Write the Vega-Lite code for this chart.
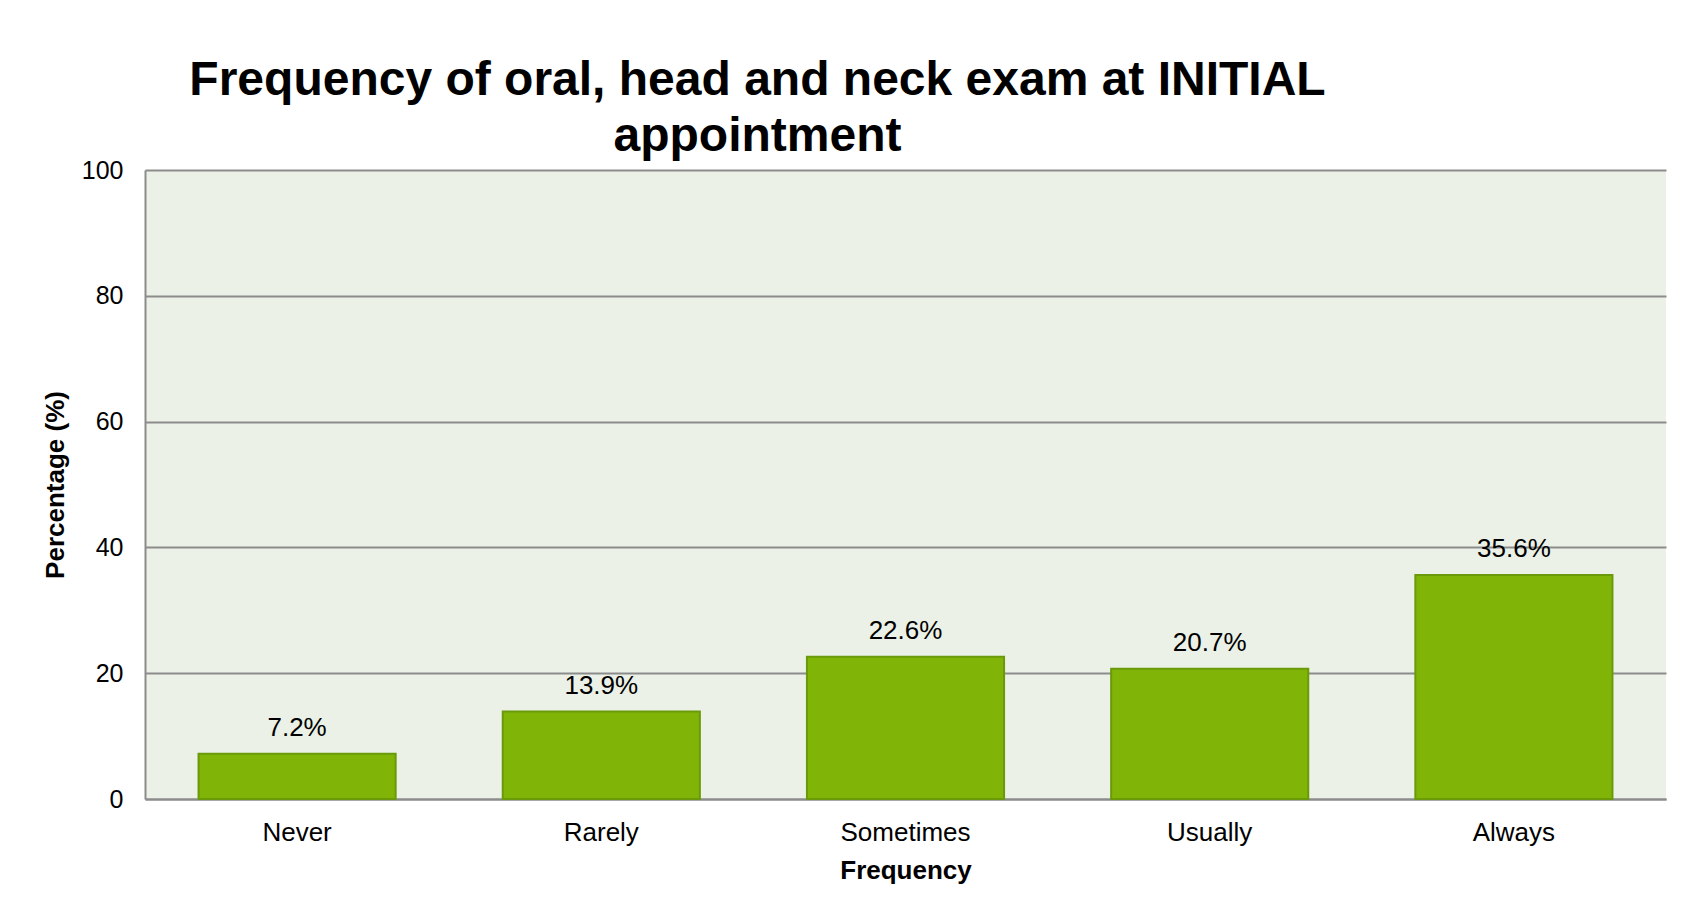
{
  "$schema": "https://vega.github.io/schema/vega-lite/v6.json",
  "autosize": {"type": "none"},
  "padding": {"left": 145, "top": 170, "right": 33, "bottom": 115},
  "width": 1521,
  "height": 629,
  "background": "white",
  "title": {
    "text": ["Frequency of oral, head and neck exam at INITIAL", "appointment"],
    "font": "Liberation Sans",
    "fontSize": 48,
    "fontWeight": "bold",
    "color": "black",
    "anchor": "middle",
    "dx": -148,
    "offset": -3,
    "lineHeight": 56
  },
  "config": {
    "view": {"fill": "#EBF1E6", "stroke": null},
    "font": "Liberation Sans"
  },
  "data": {
    "values": [
      {"Frequency": "Never", "Percentage": 7.2},
      {"Frequency": "Rarely", "Percentage": 13.9},
      {"Frequency": "Sometimes", "Percentage": 22.6},
      {"Frequency": "Usually", "Percentage": 20.7},
      {"Frequency": "Always", "Percentage": 35.6}
    ]
  },
  "encoding": {
    "x": {
      "field": "Frequency",
      "type": "nominal",
      "sort": null,
      "scale": {"paddingInner": 0.352, "paddingOuter": 0.176},
      "axis": {
        "title": "Frequency",
        "titleFontSize": 26,
        "titleFontWeight": "bold",
        "titleColor": "black",
        "titlePadding": 12,
        "labelFontSize": 26,
        "labelColor": "black",
        "labelAngle": 0,
        "labelPadding": 20,
        "ticks": false,
        "domainColor": "#8c8c8c",
        "domainWidth": 2
      }
    },
    "y": {
      "field": "Percentage",
      "type": "quantitative",
      "scale": {"domain": [0, 100]},
      "axis": {
        "title": "Percentage (%)",
        "titleFontSize": 26,
        "titleFontWeight": "bold",
        "titleColor": "black",
        "titleX": -77,
        "labelFontSize": 25,
        "labelColor": "black",
        "labelPadding": 22,
        "values": [0, 20, 40, 60, 80, 100],
        "ticks": false,
        "domainColor": "#8c8c8c",
        "domainWidth": 2,
        "grid": true,
        "gridColor": "#8c8c8c",
        "gridWidth": 2
      }
    }
  },
  "layer": [
    {
      "mark": {"type": "bar", "color": "#80B406", "stroke": "#6A9A0A", "strokeWidth": 2}
    },
    {
      "mark": {
        "type": "text",
        "baseline": "bottom",
        "dy": -13,
        "fontSize": 26,
        "color": "black",
        "text": {"expr": "format(datum.Percentage, '.1f') + '%'"}
      }
    }
  ]
}
